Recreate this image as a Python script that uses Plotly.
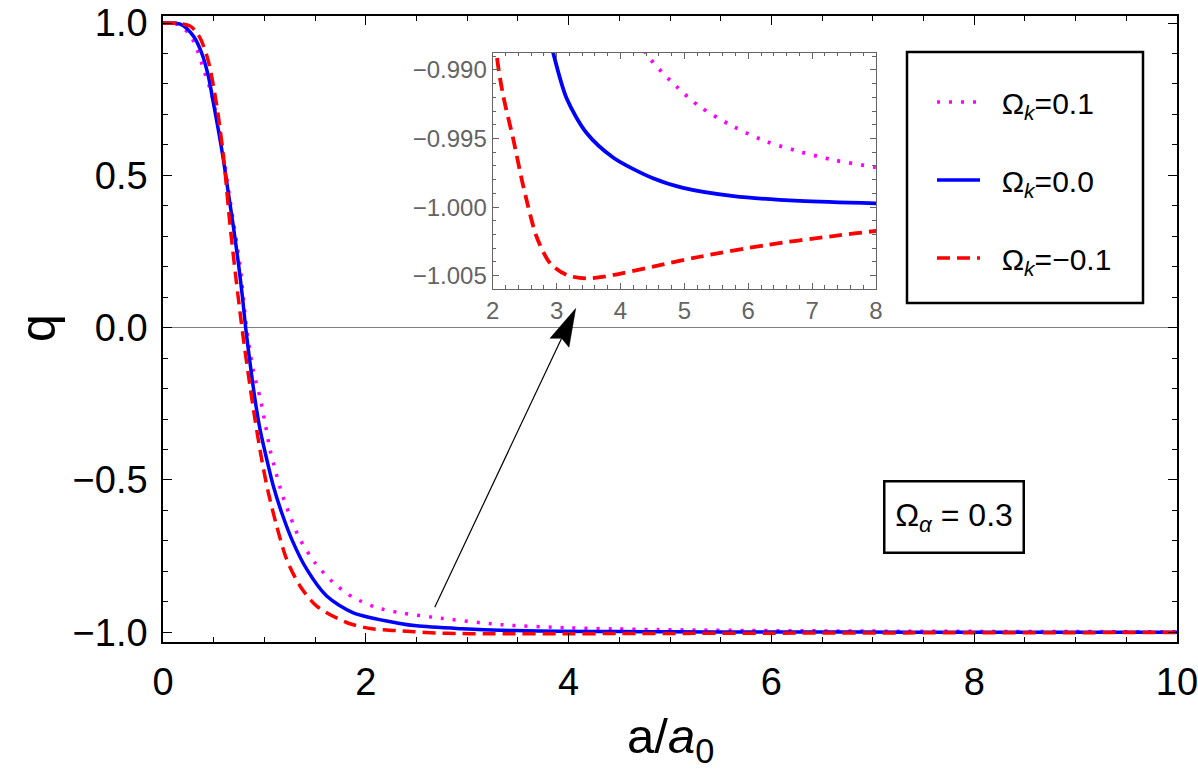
import plotly.graph_objects as go

# ---------------- data ----------------
a_k0 = [0, 0.17, 0.30, 0.38, 0.447, 0.496, 0.545, 0.595, 0.644, 0.693, 0.743, 0.786, 0.815,
        0.858, 0.907, 0.957, 1.023, 1.088, 1.17, 1.27, 1.417, 1.614, 1.877, 2.337, 2.5, 2.95,
        3.16, 3.47, 3.89, 4.51, 4.98, 5.77, 6.81, 8.0, 9.0, 10.0]
q_k0 = [1.0, 0.996, 0.957, 0.903, 0.826, 0.739, 0.651, 0.553, 0.443, 0.334, 0.213, 0.093, 0.0,
        -0.115, -0.235, -0.334, -0.432, -0.520, -0.607, -0.695, -0.793, -0.881, -0.936, -0.971,
        -0.979, -0.9888, -0.9921, -0.9946, -0.9964, -0.9979, -0.9986, -0.9992, -0.99955,
        -0.99973, -0.99982, -0.99988]

a_kneg = [0, 0.15, 0.266, 0.33, 0.38, 0.447, 0.53, 0.60, 0.66, 0.72, 0.76, 0.79, 0.858, 0.907,
          0.973, 1.039, 1.121, 1.22, 1.351, 1.516, 1.81, 2.06, 2.17, 2.32, 2.48, 2.69, 2.90,
          3.16, 3.47, 3.89, 4.51, 5.24, 6.29, 7.33, 8.0, 9.0, 10.0]
q_kneg = [1.0, 0.999, 0.99, 0.97, 0.941, 0.875, 0.73, 0.55, 0.34, 0.16, 0.05, -0.03, -0.192,
          -0.301, -0.432, -0.542, -0.651, -0.761, -0.848, -0.914, -0.968, -0.9888, -0.992,
          -0.995, -0.9985, -1.0022, -1.0041, -1.00495, -1.0052, -1.00495, -1.00434, -1.00362,
          -1.00276, -1.00211, -1.00174, -1.0013, -1.0010]

a_kpos = [0, 0.135, 0.25, 0.316, 0.40, 0.48, 0.562, 0.66, 0.76, 0.825, 0.891, 0.957, 1.006,
          1.055, 1.105, 1.17, 1.252, 1.351, 1.499, 1.68, 1.877, 2.107, 2.337, 2.67, 3.33, 4.0,
          4.46, 4.88, 5.24, 5.77, 6.29, 6.81, 7.33, 8.0, 9.0, 10.0]
q_kpos = [1.0, 0.996, 0.968, 0.930, 0.848, 0.766, 0.635, 0.421, 0.202, -0.005, -0.142, -0.230,
          -0.312, -0.400, -0.465, -0.542, -0.618, -0.695, -0.772, -0.837, -0.886, -0.919,
          -0.936, -0.951, -0.975, -0.9855, -0.98915, -0.99122, -0.99267, -0.99413, -0.99523,
          -0.99596, -0.99656, -0.99710, -0.9978, -0.9983]

names = ["Ω<sub><i>k</i></sub>=0.1", "Ω<sub><i>k</i></sub>=0.0", "Ω<sub><i>k</i></sub>=−0.1"]
colors = ["#FF00FF", "#0000FF", "#FF0000"]
dashes = ["3px,9px", "solid", "13px,7px"]

omega_alpha_label = "Ω<sub><i>α</i></sub> = 0.3"
x_title = "a/<i>a</i><sub>0</sub>"
y_title = "q"
x_range = [0, 10]
y_range = [-1.032, 1.023]
inset_x_range = [2, 8]
inset_y_range = [-1.00595, -0.98874]

# arrow (data coordinates of main axes)
arrow_start = (2.68, -0.918)
arrow_tip = (4.07, 0.063)

FONT = "Liberation Sans, Arial, sans-serif"
W, H = 1198, 771
ML, MR, MT, MB = 163, 21, 16, 129

series = [(a_kpos, q_kpos), (a_k0, q_k0), (a_kneg, q_kneg)]

fig = go.Figure()
for (xa, ya), nm, c, d in zip(series, names, colors, dashes):
    fig.add_trace(go.Scatter(x=xa, y=ya, mode="lines", name="\u00a0\u00a0" + nm, legendgroup=nm,
                             line=dict(color=c, width=3.5, dash=d, shape="spline", smoothing=0.8),
                             xaxis="x", yaxis="y"))
for (xa, ya), nm, c, d in zip(series, names, colors, dashes):
    fig.add_trace(go.Scatter(x=xa, y=ya, mode="lines", name=nm, showlegend=False,
                             line=dict(color=c, width=3.8, dash=d, shape="spline", smoothing=0.8),
                             xaxis="x2", yaxis="y2"))

plot_w = W - ML - MR
plot_h = H - MT - MB

# helpers: page pixel -> paper fraction
def px2paper_x(px):
    return (px - ML) / plot_w

def px2paper_y(py):
    return (H - MB - py) / plot_h

inset_dom_x = [px2paper_x(492.7), px2paper_x(876)]
inset_dom_y = [px2paper_y(288.7), px2paper_y(52.7)]

gray = "#646464"
fig.update_layout(
    width=W, height=H,
    margin=dict(l=ML, r=MR, t=MT, b=MB, autoexpand=False),
    paper_bgcolor="white", plot_bgcolor="white",
    font=dict(family=FONT, color="black"),
    showlegend=True,
    legend=dict(x=px2paper_x(932), y=px2paper_y(76), xanchor="left", yanchor="top",
                bgcolor="rgba(0,0,0,0)", borderwidth=0, font=dict(size=30, family=FONT),
                itemwidth=43, tracegroupgap=36, traceorder="grouped"),
    xaxis=dict(range=x_range, domain=[0, 1], showgrid=False, zeroline=False, automargin=False,
               showline=True, linecolor="black", linewidth=1.5, mirror="ticks",
               ticks="inside", ticklen=9, tickwidth=1.3, tickcolor="black",
               tick0=0, dtick=2, tickfont=dict(size=38), ticklabelstandoff=6,
               ticklabeloverflow="allow",
               minor=dict(ticks="inside", dtick=0.5, ticklen=5, tickwidth=1, tickcolor="black")),
    yaxis=dict(range=y_range, domain=[0, 1], showgrid=False, automargin=False,
               zeroline=True, zerolinecolor="#808080", zerolinewidth=1.2,
               showline=True, linecolor="black", linewidth=1.5, mirror="ticks",
               ticks="inside", ticklen=9, tickwidth=1.3, tickcolor="black",
               tick0=0, dtick=0.5, tickformat=".1f", tickfont=dict(size=38), ticklabelstandoff=6,
               ticklabeloverflow="allow",
               minor=dict(ticks="inside", dtick=0.1, ticklen=5, tickwidth=1, tickcolor="black")),
    xaxis2=dict(range=inset_x_range, domain=inset_dom_x, anchor="y2", showgrid=False,
                automargin=False,
                zeroline=False, showline=True, linecolor=gray, linewidth=1.2, mirror="ticks",
                ticks="inside", ticklen=6, tickwidth=1, tickcolor=gray,
                tick0=2, dtick=1, tickfont=dict(size=24, color=gray),
                minor=dict(ticks="inside", dtick=0.2, ticklen=3.5, tickwidth=1, tickcolor=gray)),
    yaxis2=dict(range=inset_y_range, domain=inset_dom_y, anchor="x2", showgrid=False,
                automargin=False,
                zeroline=False, showline=True, linecolor=gray, linewidth=1.2, mirror="ticks",
                ticks="inside", ticklen=6, tickwidth=1, tickcolor=gray,
                tick0=-1.0, dtick=0.005, tickformat=".3f", tickfont=dict(size=24, color=gray),
                minor=dict(ticks="inside", dtick=0.001, ticklen=3.5, tickwidth=1, tickcolor=gray)),
)

# axis titles
fig.add_annotation(xref="paper", yref="paper", x=px2paper_x(670), y=px2paper_y(739),
                   text=x_title, showarrow=False, font=dict(size=49, family=FONT),
                   xanchor="center", yanchor="middle")
fig.add_annotation(xref="paper", yref="paper", x=px2paper_x(38), y=px2paper_y(328),
                   text=y_title, showarrow=False, font=dict(size=50, family=FONT),
                   textangle=-90, xanchor="center", yanchor="middle")

# legend frame
fig.add_shape(type="rect", xref="paper", yref="paper",
              x0=px2paper_x(907), x1=px2paper_x(1143), y0=px2paper_y(303), y1=px2paper_y(52),
              line=dict(color="black", width=2.5), fillcolor="rgba(0,0,0,0)", layer="above")

# Omega_alpha box
fig.add_annotation(xref="paper", yref="paper", x=px2paper_x(953.5), y=px2paper_y(516.5),
                   xanchor="center", yanchor="middle",
                   text=omega_alpha_label, showarrow=False, font=dict(size=32, family=FONT),
                   bordercolor="black", borderwidth=2.5, borderpad=0, width=137, height=69,
                   bgcolor="white")

# arrow: shaft + head computed in pixel space
sx_scale = plot_w / (x_range[1] - x_range[0])
sy_scale = plot_h / (y_range[1] - y_range[0])
dxp = (arrow_tip[0] - arrow_start[0]) * sx_scale
dyp = (arrow_tip[1] - arrow_start[1]) * sy_scale
L = (dxp ** 2 + dyp ** 2) ** 0.5
ux, uy = dxp / L, dyp / L
nx, ny = -uy, ux
head_len, half_w, notch = 38, 10.5, 5

def pt(along, side):
    px = arrow_tip[0] * sx_scale + ux * along + nx * side
    py = arrow_tip[1] * sy_scale + uy * along + ny * side
    return px / sx_scale, py / sy_scale

c1 = pt(-head_len, half_w)
c2 = pt(-head_len, -half_w)
cn = pt(-head_len + notch, 0)
fig.add_shape(type="line", xref="x", yref="y", x0=arrow_start[0], y0=arrow_start[1],
              x1=cn[0], y1=cn[1], line=dict(color="black", width=1.2), layer="above")
fig.add_shape(type="path", xref="x", yref="y",
              path=f"M{arrow_tip[0]},{arrow_tip[1]} L{c1[0]},{c1[1]} L{cn[0]},{cn[1]} L{c2[0]},{c2[1]} Z",
              fillcolor="black", line=dict(color="black", width=0.5), layer="above")

# remove the default 8px page margin so the figure fills the window exactly
fig.write_html("out.html", config={"displayModeBar": False},
               post_script="document.body.style.margin='0';document.body.style.overflow='hidden';")
